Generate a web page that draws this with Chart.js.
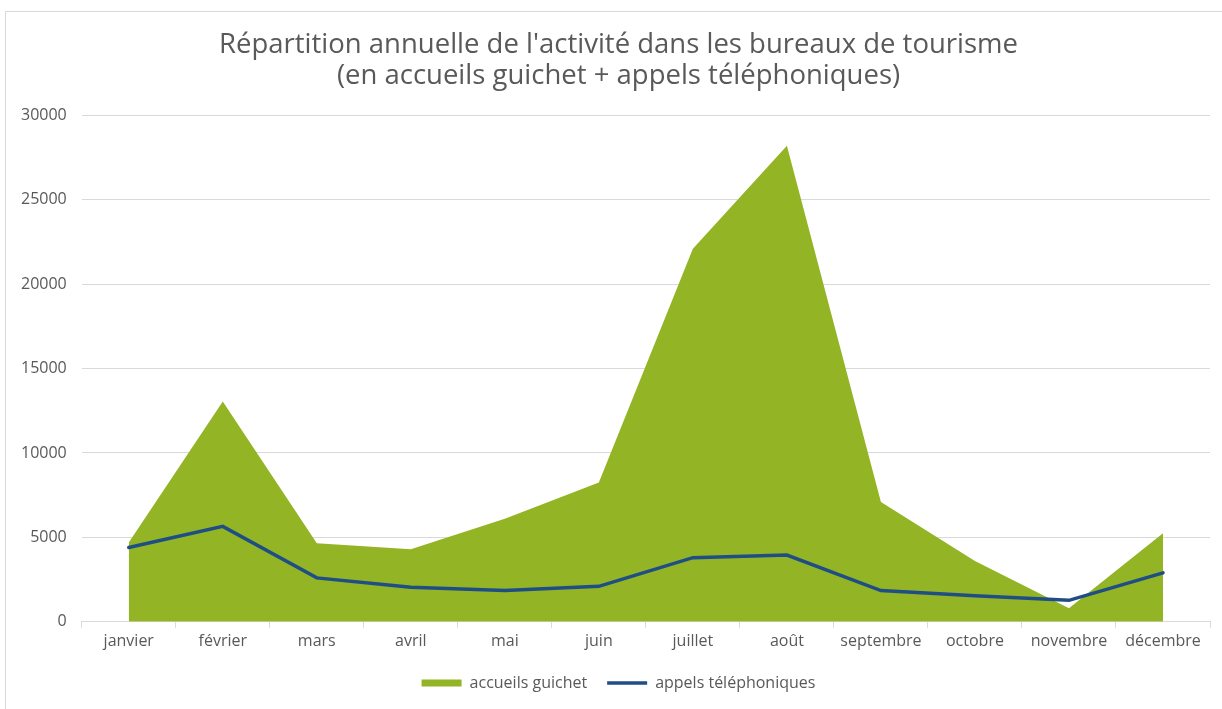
<!DOCTYPE html>
<html>
<head>
<meta charset="utf-8">
<script src="https://cdn.jsdelivr.net/npm/chart.js@4"></script>
<style>
  html, body { margin: 0; padding: 0; background: #fff; overflow: hidden; width: 1222px; height: 709px; }
  #wrap { position: absolute; left: 5px; top: 11px; width: 1232px; height: 710px; border-left: 1px solid #d9d9d9; border-top: 1px solid #d9d9d9; box-sizing: border-box; }
</style>
</head>
<body>
<div id="wrap"><canvas id="chart"></canvas></div>
<script>
const months = ['janvier', 'février', 'mars', 'avril', 'mai', 'juin', 'juillet', 'août', 'septembre', 'octobre', 'novembre', 'décembre'];
const guichet = [4700, 13050, 4650, 4300, 6100, 8250, 22100, 28200, 7100, 3600, 800, 5250];
const appels = [4400, 5650, 2600, 2050, 1850, 2100, 3800, 3950, 1850, 1550, 1270, 2900];
const yTicks = [0, 5000, 10000, 15000, 20000, 25000, 30000];

const grey = '#595959';
const font = 'Open Sans';

document.addEventListener('DOMContentLoaded', function () {
    const ctx = document.getElementById('chart').getContext('2d');

    new Chart(ctx, {
        type: 'line',
        data: {
            labels: months,
            datasets: [{
                label: 'accueils guichet',
                data: guichet,
                backgroundColor: '#93b424',
                borderColor: '#93b424',
                borderWidth: 0,
                fill: 'origin',
                pointRadius: 0,
                tension: 0,
                order: 1,
                pointStyle: 'rect'
            }, {
                label: 'appels téléphoniques',
                data: appels,
                borderColor: '#1f4e86',
                backgroundColor: '#1f4e86',
                borderWidth: 3.5,
                borderCapStyle: 'round',
                fill: false,
                pointRadius: 0,
                tension: 0,
                order: 0,
                pointStyle: 'line'
            }]
        },
        options: {
            responsive: true,
            maintainAspectRatio: false,
            animation: false,
            layout: { padding: { left: 0, right: 6, top: 0, bottom: 20 } },
            scales: {
                x: {
                    offset: true,
                    grid: { offset: true, drawOnChartArea: false, drawTicks: true, tickLength: 6, color: '#d9d9d9' },
                    border: { display: true, color: '#d9d9d9', width: 1 },
                    ticks: { color: grey, font: { family: font, size: 16 }, padding: 4, maxRotation: 0 }
                },
                y: {
                    min: 0,
                    max: 30000,
                    afterBuildTicks: function (axis) { axis.ticks = yTicks.map(v => ({ value: v })); },
                    grid: { color: '#d9d9d9', drawTicks: false },
                    border: { display: false },
                    ticks: { color: grey, font: { family: font, size: 16 }, padding: 15, callback: v => String(v) }
                },
                spacer: {
                    type: 'linear',
                    position: 'right',
                    min: 0,
                    max: 1,
                    grid: { display: false, drawTicks: false },
                    border: { display: false },
                    ticks: { display: false },
                    afterFit: function (axis) { axis.width = 21; }
                }
            },
            plugins: {
                title: {
                    display: true,
                    text: ["Répartition annuelle de l'activité dans les bureaux de tourisme", '(en accueils guichet + appels téléphoniques)'],
                    color: grey,
                    font: { family: font, size: 27.5, weight: 'normal', lineHeight: 1.15 },
                    padding: { top: 17, bottom: 23 }
                },
                legend: {
                    position: 'bottom',
                    labels: {
                        color: grey,
                        font: { family: font, size: 16 },
                        usePointStyle: true,
                        pointStyleWidth: 40,
                        boxHeight: 7,
                        padding: 20,
                        sort: (a, b) => a.datasetIndex - b.datasetIndex
                    }
                },
                tooltip: { enabled: false }
            }
        }
    });
});
</script>
</body>
</html>
